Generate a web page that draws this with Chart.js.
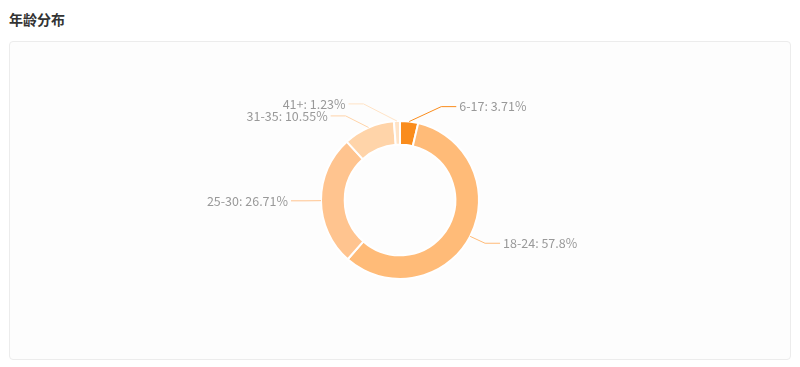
<!DOCTYPE html>
<html>
<head>
<meta charset="utf-8">
<script src="https://cdn.jsdelivr.net/npm/chart.js@4"></script>
<style>
  html, body { margin: 0; padding: 0; background: #fff; }
  body { width: 800px; height: 367px; position: relative; overflow: hidden;
    font-family: "Noto Sans CJK SC", "Noto Sans", sans-serif; }
  .title { position: absolute; left: 9px; top: 9px; font-size: 14px; font-weight: bold; color: #333; }
  .card { position: absolute; left: 9px; top: 41px; width: 782px; height: 319px; box-sizing: border-box;
    border: 1px solid #ececec; border-radius: 4px; background: #fdfdfd; }
  .card canvas { display: block; }
</style>
</head>
<body>
<div class="title">年龄分布</div>
<div class="card"><canvas id="age" width="780" height="317"></canvas></div>
<script>
const ageGroups = ['6-17', '18-24', '25-30', '31-35', '41+'];
const sharePct = [3.71, 57.8, 26.71, 10.55, 1.23];
const sliceColors = ['#fa8c1c', '#ffbb78', '#ffc48f', '#ffd4a9', '#ffe3c6'];

// leader lines + labels, pushed apart per side
const outsideLabels = {
  id: 'outsideLabels',
  afterDatasetsDraw(chart) {
    const ctx = chart.ctx;
    const meta = chart.getDatasetMeta(0);
    const len1 = 15, len2 = 15, minGap = 12;
    const items = meta.data.map((arc, i) => {
      const mid = (arc.startAngle + arc.endAngle) / 2;
      const r = arc.outerRadius;
      return {
        i, cx: arc.x, cy: arc.y, r,
        x0: arc.x + Math.cos(mid) * r,
        y0: arc.y + Math.sin(mid) * r,
        y: arc.y + Math.sin(mid) * (r + len1),
        side: Math.cos(mid) >= 0 ? 1 : -1
      };
    });
    [1, -1].forEach(side => {
      const list = items.filter(it => it.side === side).sort((a, b) => a.y - b.y);
      for (let pass = 0; pass < 20; pass++) {
        for (let k = 1; k < list.length; k++) {
          const gap = list[k].y - list[k - 1].y;
          if (gap < minGap) {
            const d = (minGap - gap) / 2;
            list[k - 1].y -= d;
            list[k].y += d;
          }
        }
      }
    });
    ctx.save();
    ctx.font = '12.5px "Noto Sans CJK SC", "Noto Sans", sans-serif';
    ctx.textBaseline = 'middle';
    items.forEach(it => {
      const R2 = it.r + len1 + len2;
      const dy = Math.abs(it.y - it.cy);
      const dx = dy < R2 ? Math.sqrt(R2 * R2 - dy * dy) : 0;
      const lx = it.cx + it.side * dx;
      const ex = lx - it.side * len2;
      ctx.strokeStyle = sliceColors[it.i];
      ctx.lineWidth = 1;
      ctx.beginPath();
      ctx.moveTo(it.x0, it.y0);
      ctx.lineTo(ex, it.y);
      ctx.lineTo(lx, it.y);
      ctx.stroke();
      ctx.fillStyle = '#999';
      ctx.textAlign = it.side > 0 ? 'left' : 'right';
      ctx.fillText(ageGroups[it.i] + ': ' + sharePct[it.i] + '%', lx + it.side * 3, it.y);
    });
    ctx.restore();
  }
};

new Chart(document.getElementById('age'), {
  type: 'doughnut',
  data: {
    labels: ageGroups,
    datasets: [{
      data: sharePct,
      backgroundColor: sliceColors,
      borderColor: '#fff',
      borderWidth: 2
    }]
  },
  options: {
    responsive: false,
    animation: false,
    cutout: '70%',
    layout: { padding: { top: 78, bottom: 79, left: 310, right: 310 } },
    plugins: { legend: { display: false }, tooltip: { enabled: false } }
  },
  plugins: [outsideLabels]
});
</script>
</body>
</html>
